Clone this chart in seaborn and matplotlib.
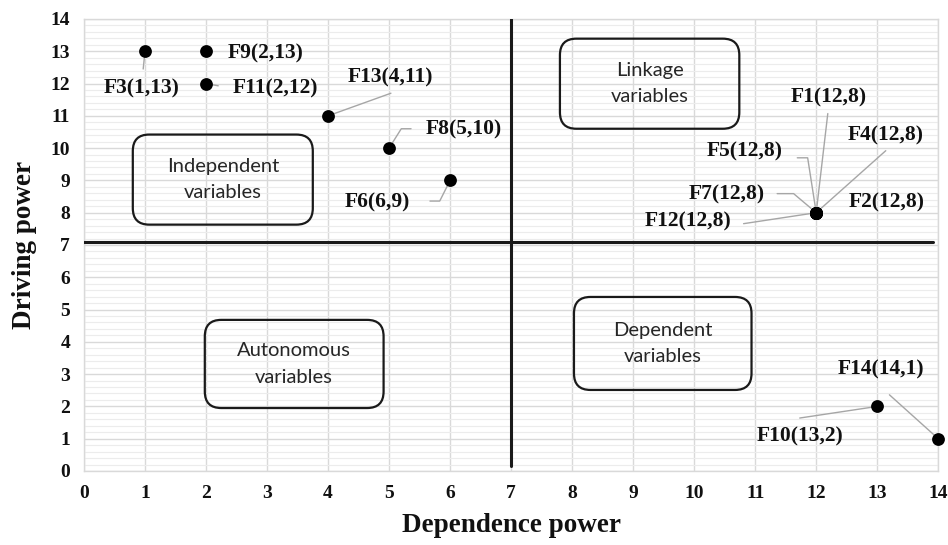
import matplotlib
matplotlib.use("Agg")
import matplotlib.pyplot as plt
from matplotlib.patches import FancyBboxPatch
from matplotlib.ticker import MultipleLocator
import numpy as np
import pandas as pd
import seaborn as sns

# factors: name, dependence power, driving power
factors = ["F1", "F2", "F3", "F4", "F5", "F6", "F7",
           "F8", "F9", "F10", "F11", "F12", "F13", "F14"]
dependence = [12, 12, 1, 12, 12, 6, 12, 5, 2, 13, 2, 12, 4, 14]
driving = [8, 8, 13, 8, 8, 9, 8, 10, 13, 2, 12, 8, 11, 1]

quadrants = ["Independent\nvariables", "Linkage\nvariables",
             "Autonomous\nvariables", "Dependent\nvariables"]

df = pd.DataFrame({"factor": factors, "dep": dependence, "drv": driving})

# label placement (text centre, connector path) -- layout only
label_pos = {
    "F1": (12.2, 11.56), "F2": (13.16, 8.31), "F3": (0.95, 11.84),
    "F4": (13.14, 10.38), "F5": (10.83, 9.89), "F6": (4.81, 8.31),
    "F7": (10.54, 8.56), "F8": (6.22, 10.57), "F9": (2.98, 12.93),
    "F10": (11.74, 1.08), "F11": (3.13, 11.84), "F12": (9.9, 7.72),
    "F13": (5.03, 12.18), "F14": (13.06, 3.13),
}
connectors = {
    "F1": [(12.19, 11.07)],
    "F3": [(0.97, 12.45)],
    "F4": [(13.14, 9.92)],
    "F5": [(11.69, 9.7), (11.86, 9.7)],
    "F6": [(5.67, 8.36), (5.83, 8.36)],
    "F7": [(11.36, 8.59), (11.63, 8.59)],
    "F8": [(5.36, 10.6), (5.2, 10.6)],
    "F10": [(11.73, 1.64)],
    "F11": [(2.2, 11.93)],
    "F12": [(10.81, 7.66)],
    "F13": [(5.03, 11.7)],
    "F14": [(13.2, 2.36)],
}
box_pos = [(0.8, 7.63, 3.75, 10.42), (7.8, 10.6, 10.74, 13.39),
           (1.98, 1.95, 4.91, 4.68), (8.03, 2.51, 10.94, 5.39)]

sns.set_style("white")
serif = ["Liberation Serif", "DejaVu Serif"]

fig = plt.figure(figsize=(9.48, 5.45), dpi=100)
ax = fig.add_axes([0.0886, 0.1358, 0.9011, 0.8294])

ax.set_xlim(0, 14)
ax.set_ylim(0, 14)
ax.xaxis.set_major_locator(MultipleLocator(1))
ax.yaxis.set_major_locator(MultipleLocator(1))
ax.yaxis.set_minor_locator(MultipleLocator(0.2))
ax.grid(True, which="major", color="#d9d9d9", linewidth=1.0)
ax.grid(True, which="minor", axis="y", color="#ececec", linewidth=0.8)
ax.set_axisbelow(True)
for s in ax.spines.values():
    s.set_color("#d9d9d9")
    s.set_linewidth(1.0)
ax.tick_params(which="both", length=0, pad=10)

# connectors
for name, path in connectors.items():
    row = df[df.factor == name].iloc[0]
    xs = [p[0] for p in path] + [row.dep]
    ys = [p[1] for p in path] + [row.drv]
    ax.plot(xs, ys, color="#a6a6a6", linewidth=1.0, zorder=2)

# quadrant dividers
ax.axvline(7, ymin=0.01, ymax=1, color="#1a1a1a", linewidth=2.2, zorder=3)
ax.plot([0, 13.92], [7.1, 7.1], color="#1a1a1a", linewidth=2.2, zorder=3)

sns.scatterplot(data=df, x="dep", y="drv", color="black", s=85,
                edgecolor="black", linewidth=0, ax=ax, zorder=4, clip_on=False)

for _, row in df.iterrows():
    lx, ly = label_pos[row.factor]
    ax.text(lx, ly, f"{row.factor}({row.dep},{row.drv})", ha="center",
            va="center", fontsize=15.5, fontweight="bold", family=serif,
            color="#111111", zorder=5)

for (x0, y0, x1, y1), txt in zip(box_pos, quadrants):
    ax.add_patch(FancyBboxPatch((x0, y0), x1 - x0, y1 - y0,
                                boxstyle="round,pad=0,rounding_size=0.27",
                                mutation_aspect=1.89, fill=False,
                                edgecolor="#1a1a1a", linewidth=1.6, zorder=3))
    ax.text((x0 + x1) / 2, (y0 + y1) / 2, txt, ha="center", va="center",
            fontsize=14.5, family=["Lato", "DejaVu Sans"], color="#262626",
            linespacing=1.65, zorder=5)

for lab in ax.get_xticklabels() + ax.get_yticklabels():
    lab.set_fontfamily(serif)
    lab.set_fontweight("bold")
    lab.set_fontsize(14)
    lab.set_color("#111111")

ax.set_xlabel("Dependence power", fontsize=19.5, fontweight="bold",
              family=serif, color="#111111", labelpad=8)
ax.set_ylabel("Driving power", fontsize=19.5, fontweight="bold",
              family=serif, color="#111111", labelpad=10)

fig.savefig("out.png", dpi=100)
